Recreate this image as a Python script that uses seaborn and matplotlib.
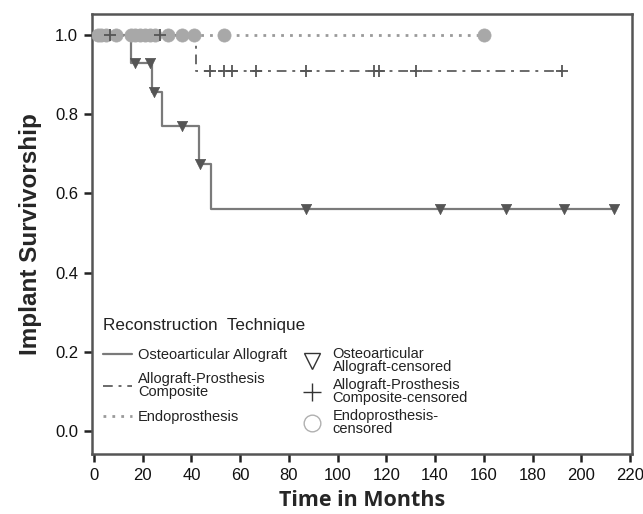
import numpy as np
import pandas as pd
import seaborn as sns
from matplotlib import pyplot as plt
from matplotlib.lines import Line2D

# Kaplan-Meier step curves
oa_time = [0, 15, 24, 28, 43, 48, 214]
oa_surv = [1.0, 0.929, 0.857, 0.769, 0.673, 0.561, 0.561]
oa_censored = [17, 23, 24.5, 36, 43.5, 87, 142, 169, 193, 213.5]

ap_time = [0, 42, 192]
ap_surv = [1.0, 0.909, 0.909]
ap_censored = [6.5, 27, 47.5, 53.5, 56.5, 66.5, 87, 115, 117, 132, 192]

endo_time = [0, 160]
endo_surv = [1.0, 1.0]
endo_censored = [1.5, 3, 5, 9, 15, 17, 19, 21, 23, 25, 30.5, 36, 41, 53.5, 160]

x_ticks = [0, 20, 40, 60, 80, 100, 120, 140, 160, 180, 200, 220]
y_ticks = [0.0, 0.2, 0.4, 0.6, 0.8, 1.0]


def step_value(times, surv, t):
    """Survival value of a step curve at time t (right-continuous)."""
    idx = np.searchsorted(times, t, side='right') - 1
    return np.asarray(surv)[idx]


sns.set_style("white")
plt.rcParams['font.family'] = ['Liberation Sans', 'DejaVu Sans']

fig = plt.figure(figsize=(6.43, 5.14), dpi=100)
ax = fig.add_axes([0.1431, 0.1167, 0.8398, 0.8561])

curves = [
    ("Osteoarticular Allograft", oa_time, oa_surv, oa_censored),
    ("Allograft-Prosthesis Composite", ap_time, ap_surv, ap_censored),
    ("Endoprosthesis", endo_time, endo_surv, endo_censored),
]
line_style = {
    "Osteoarticular Allograft": dict(color="#7a7a7a", lw=1.6, ls="-"),
    "Allograft-Prosthesis Composite": dict(color="#6a6a6a", lw=1.4, ls=(0, (5, 3, 1.5, 3))),
    "Endoprosthesis": dict(color="#9a9a9a", lw=2.0, ls=(0, (1, 2.2))),
}
marker_style = {
    "Osteoarticular Allograft": dict(marker="v", s=55, color="#555555", edgecolor="#555555", linewidth=0.5),
    "Allograft-Prosthesis Composite": dict(marker="+", s=75, color="#555555", linewidth=1.3),
    "Endoprosthesis": dict(marker="o", s=90, color="#a8a8a8", edgecolor="#a8a8a8", linewidth=0.5),
}

# draw endoprosthesis first so the others sit on top
for name, times, surv, cens in curves[::-1]:
    df = pd.DataFrame({"time": times, "surv": surv})
    sns.lineplot(data=df, x="time", y="surv", drawstyle="steps-post", ax=ax,
                 estimator=None, sort=False, **line_style[name])
    cdf = pd.DataFrame({"time": cens, "surv": step_value(times, surv, cens)})
    sns.scatterplot(data=cdf, x="time", y="surv", ax=ax, zorder=3, **marker_style[name])

ax.set_xlim(-0.8, 220.8)
ax.set_ylim(-0.058, 1.053)
ax.set_xticks(x_ticks)
ax.set_yticks(y_ticks)
ax.set_yticklabels([f"{v:.1f}" for v in y_ticks])
ax.tick_params(axis='both', direction='out', length=6, width=1.8, color="#222222",
               labelsize=12, labelcolor="#111111", bottom=True, left=True, pad=4)
for spine in ax.spines.values():
    spine.set_color("#555555")
    spine.set_linewidth(1.8)

ax.set_xlabel("Time in Months", fontsize=15.5, fontweight='bold', family=['Open Sans', 'DejaVu Sans'],
              labelpad=5)
ax.set_ylabel("Implant Survivorship", fontsize=17.5, fontweight='bold', labelpad=9)

# legend: title and two separate blocks, placed like the reference
ax.text(0.0204, 0.293, "Reconstruction  Technique", transform=ax.transAxes, fontsize=12.3,
        va='center', ha='left', color="#222222")
line_handles = [
    Line2D([], [], **line_style["Osteoarticular Allograft"]),
    Line2D([], [], **line_style["Allograft-Prosthesis Composite"]),
    Line2D([], [], **line_style["Endoprosthesis"]),
]
line_labels = ["Osteoarticular Allograft", "Allograft-Prosthesis\nComposite", "Endoprosthesis"]
marker_handles = [
    Line2D([], [], ls="none", marker="v", ms=11, mfc="white", mec="#333333", mew=1.0),
    Line2D([], [], ls="none", marker="+", ms=13, mec="#333333", mew=1.0),
    Line2D([], [], ls="none", marker="o", ms=12, mfc="white", mec="#b0b0b0", mew=1.0),
]
marker_labels = ["Osteoarticular\nAllograft-censored", "Allograft-Prosthesis\nComposite-censored",
                 "Endoprosthesis-\ncensored"]

leg1 = ax.legend(line_handles, line_labels, loc='upper left', bbox_to_anchor=(0.0204, 0.241),
                 frameon=False, fontsize=10.5, handlelength=2.0, handletextpad=0.4,
                 labelspacing=0.72, borderpad=0, borderaxespad=0)
ax.add_artist(leg1)
leg2 = ax.legend(marker_handles, marker_labels, loc='upper left', bbox_to_anchor=(0.389, 0.2435),
                 frameon=False, fontsize=10.5, handlelength=1.4, handletextpad=0.7,
                 labelspacing=0.3, borderpad=0, borderaxespad=0)
for leg in (leg1, leg2):
    for txt in leg.get_texts():
        txt.set_linespacing(0.9)
        txt.set_color("#222222")

fig.savefig("out.png", dpi=100)
